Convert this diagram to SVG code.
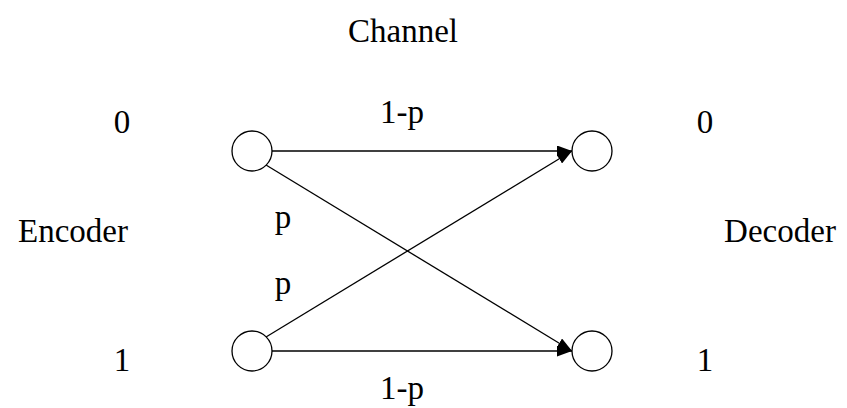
<svg xmlns="http://www.w3.org/2000/svg" width="847" height="408" viewBox="0 0 847 408">
  <style>
    .lbl { font-family: "Liberation Serif", "DejaVu Serif", serif; font-size: 33px; fill: #000; text-anchor: middle; }
    .node { fill: #fff; stroke: #000; stroke-width: 1.3; }
    .edge { fill: none; stroke: #000; stroke-width: 1.3; }
  </style>
  <defs>
    <marker id="arrow" viewBox="0 0 15 11" refX="15" refY="5.5" markerWidth="15" markerHeight="11" markerUnits="userSpaceOnUse" orient="auto">
      <path d="M0,0 L15,5.5 L0,11 Z" fill="#000"/>
    </marker>
  </defs>
  <rect width="847" height="408" fill="#fff"/>

  <g id="connectors">
    <line class="edge" x1="272" y1="151" x2="572" y2="151" marker-end="url(#arrow)"/>
    <line class="edge" x1="272" y1="351" x2="572" y2="351" marker-end="url(#arrow)"/>
    <line class="edge" x1="266" y1="165" x2="572" y2="351" marker-end="url(#arrow)"/>
    <line class="edge" x1="266" y1="337" x2="572" y2="151" marker-end="url(#arrow)"/>
  </g>

  <g id="in0"><circle class="node" cx="252" cy="151" r="20"/></g>
  <g id="in1"><circle class="node" cx="252" cy="351" r="20"/></g>
  <g id="out0"><circle class="node" cx="592" cy="151" r="20"/></g>
  <g id="out1"><circle class="node" cx="592" cy="351" r="20"/></g>

  <g id="labels">
    <text class="lbl" x="403" y="42">Channel</text>
    <text class="lbl" x="122" y="133">0</text>
    <text class="lbl" x="122" y="371">1</text>
    <text class="lbl" x="705" y="133">0</text>
    <text class="lbl" x="705" y="371">1</text>
    <text class="lbl" x="73" y="242">Encoder</text>
    <text class="lbl" x="780" y="242">Decoder</text>
    <text class="lbl" x="402" y="123">1-p</text>
    <text class="lbl" x="402" y="399">1-p</text>
    <text class="lbl" x="283" y="228">p</text>
    <text class="lbl" x="283" y="294">p</text>
  </g>
</svg>
